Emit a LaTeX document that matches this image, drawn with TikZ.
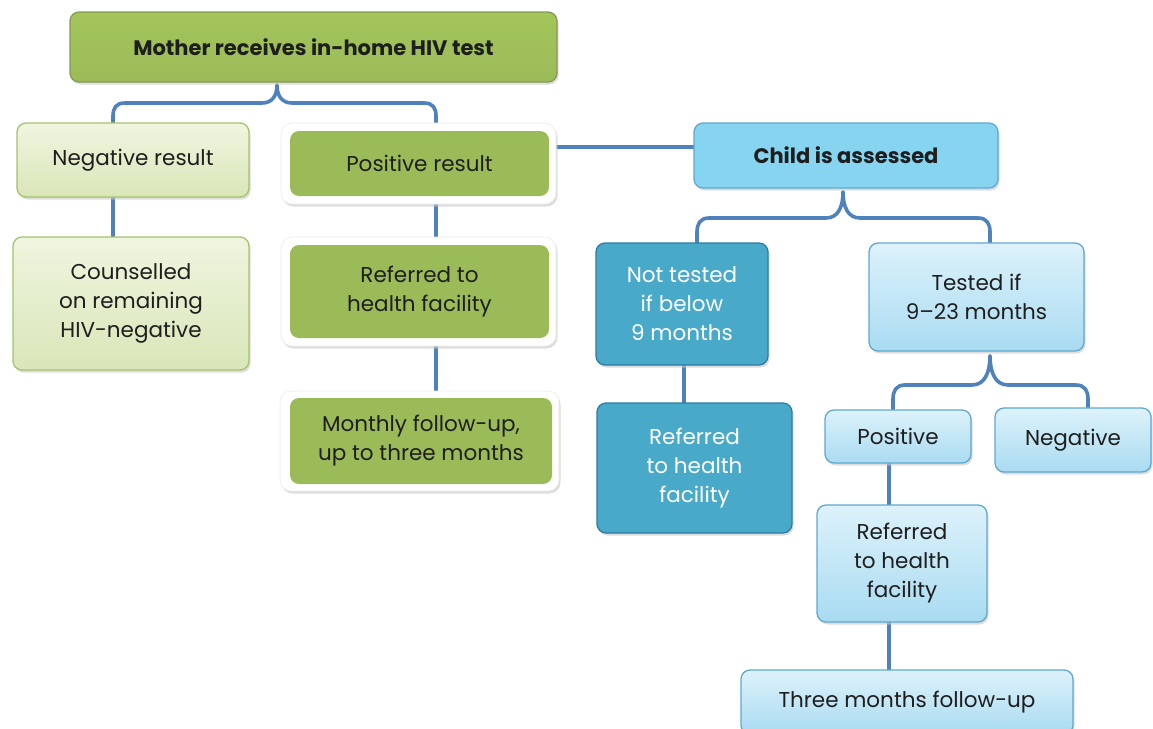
\documentclass[tikz,border=0pt]{standalone}
\usepackage{fontspec}
\setmainfont{Poppins}
\usetikzlibrary{shadows,backgrounds}
\definecolor{conn}{HTML}{4F81BD}
\definecolor{gdark}{HTML}{9BBB59}
\definecolor{gdarktop}{HTML}{A3C55A}
\definecolor{glt}{HTML}{F0F5E0}
\definecolor{glb}{HTML}{D9E6B8}
\definecolor{gbord}{HTML}{A6C26A}
\definecolor{blt}{HTML}{DDF2FB}
\definecolor{blb}{HTML}{A9DBF1}
\definecolor{bbord}{HTML}{5FA9CF}
\definecolor{bmid}{HTML}{87D4F0}
\definecolor{teal}{HTML}{48A9C8}
\definecolor{tealb}{HTML}{2E7BA6}
\definecolor{txt}{HTML}{1E1E1E}
\tikzset{
  box/.style={rounded corners=9pt, line width=1.3pt, align=center, inner sep=0pt,
    text=txt, font=\fontsize{21.5}{29}\selectfont},
  boldtext/.style={font=\fontsize{21}{25}\selectfont\bfseries},
  shad/.style={drop shadow={shadow xshift=1.5pt, shadow yshift=-2.5pt, fill=black!22, opacity=0.6}},
  lgreen/.style={box, draw=gbord, top color=glt, bottom color=glb, shad},
  dgreen/.style={box, draw=none, fill=gdark},
  gframe/.style={rounded corners=11pt, fill=white, draw=black!8, line width=0.6pt, shad},
  lblue/.style={box, draw=bbord, top color=blt, bottom color=blb, shad},
  tealbox/.style={box, draw=tealb, fill=teal, text=white, shad},
  conline/.style={draw=conn, line width=3.6pt, line cap=round}
}
\begin{document}
\begin{tikzpicture}[x=1pt,y=-1pt]
\useasboundingbox (0,0) rectangle (1153,728);
\clip (0,0) rectangle (1153,728);
\coordinate (mtip) at (277,85);
\coordinate (ctip) at (843,192);
\coordinate (ttip) at (990,356);
% nodes
\node[box, draw=gbord!80!black, top color=gdarktop, bottom color=gdark, shad, minimum width=487pt, minimum height=70pt, boldtext] (mother) at (313.5,47) {Mother receives in-home HIV test};
\node[lgreen, minimum width=232pt, minimum height=74pt] (neg) at (133,160) {Negative result};
\node[gframe, minimum width=275pt, minimum height=81pt] (posf) at (418.5,163.5) {};
\node[dgreen, minimum width=259pt, minimum height=65pt] (pos) at (419.5,163.5) {Positive result};
\node[lgreen, minimum width=236pt, minimum height=133pt] (couns) at (131,303.5) {Counselled\\on remaining\\HIV-negative};
\node[gframe, minimum width=275pt, minimum height=109pt] (refgf) at (418.5,291.5) {};
\node[dgreen, minimum width=259pt, minimum height=93pt] (refg) at (419.5,291.5) {Referred to\\health facility};
\node[gframe, minimum width=279pt, minimum height=100pt] (monf) at (419.5,441) {};
\node[dgreen, minimum width=262pt, minimum height=86pt] (mon) at (421,441) {Monthly follow-up,\\up to three months};
\node[box, draw=bbord, fill=bmid, shad, minimum width=304pt, minimum height=65pt, boldtext] (child) at (846,155.5) {Child is assessed};
\node[tealbox, minimum width=172pt, minimum height=122pt] (nott) at (682,304) {Not tested\\if below\\9 months};
\node[lblue, minimum width=215pt, minimum height=108pt] (tested) at (976.5,297) {Tested if\\9--23 months};
\node[tealbox, minimum width=195pt, minimum height=130pt] (reft) at (694.5,468) {Referred\\to health\\facility};
\node[lblue, minimum width=146pt, minimum height=53pt] (cpos) at (898,436.5) {Positive};
\node[lblue, minimum width=156pt, minimum height=64pt] (cneg) at (1073,440) {Negative};
\node[lblue, minimum width=170pt, minimum height=117pt] (refb) at (902,563.5) {Referred\\to health\\facility};
\node[lblue, minimum width=332pt, minimum height=64pt] (three) at (907,702) {Three months follow-up};
% connectors
\begin{scope}[on background layer]
\draw[conline] (mtip) .. controls (277,96) and (272,103) .. (262,103) -- (125,103) .. controls (116,103) and (113,108) .. (113,116) -- (neg.north -| 113,0);
\draw[conline] (mtip) .. controls (277,96) and (282,103) .. (292,103) -- (424,103) .. controls (433,103) and (436,108) .. (436,116) -- (posf.north -| 436,0);
\draw[conline] (neg.south -| 113,0) -- (couns.north -| 113,0);
\draw[conline] (posf.south -| 436,0) -- (refgf.north -| 436,0);
\draw[conline] (refgf.south -| 436,0) -- (monf.north -| 436,0);
\draw[conline] (pos.east |- 0,147) -- (child.west |- 0,147);
\draw[conline] (ctip) .. controls (843,207) and (838,218) .. (826,218) -- (709,218) .. controls (700,218) and (697,224) .. (697,232) -- (nott.north -| 697,0);
\draw[conline] (ctip) .. controls (843,207) and (848,218) .. (860,218) -- (978,218) .. controls (987,218) and (990,224) .. (990,232) -- (tested.north -| 990,0);
\draw[conline] (nott.south -| 684,0) -- (reft.north -| 684,0);
\draw[conline] (ttip) .. controls (990,372) and (985,385) .. (972,385) -- (905,385) .. controls (896,385) and (893,391) .. (893,399) -- (cpos.north -| 893,0);
\draw[conline] (ttip) .. controls (990,372) and (995,385) .. (1008,385) -- (1076,385) .. controls (1085,385) and (1088,391) .. (1088,399) -- (cneg.north -| 1088,0);
\draw[conline] (cpos.south -| 889,0) -- (refb.north -| 889,0);
\draw[conline] (refb.south -| 889,0) -- (three.north -| 889,0);
\end{scope}
\end{tikzpicture}
\end{document}
